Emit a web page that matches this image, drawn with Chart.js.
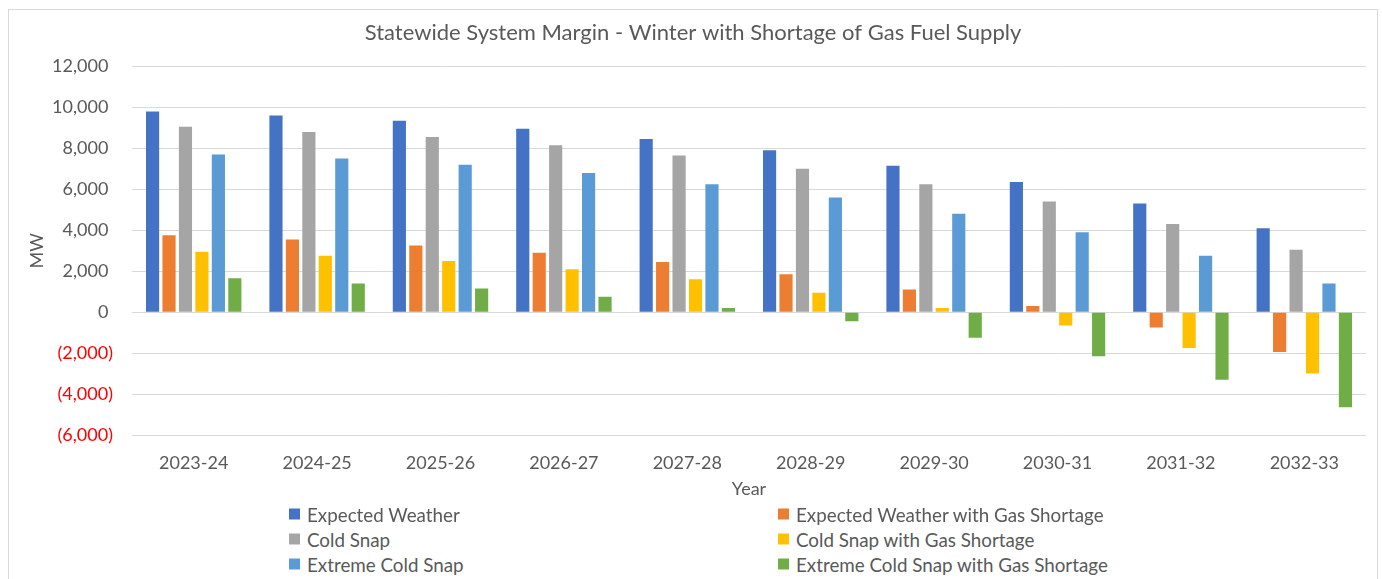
<!DOCTYPE html>
<html lang="en">
<head>
    <meta charset="UTF-8">
    <title>Statewide System Margin - Winter with Shortage of Gas Fuel Supply</title>
    <script src="https://cdn.jsdelivr.net/npm/chart.js"></script>
    <style>
        body {
            margin: 0;
            padding: 0;
            background: #ffffff;
            overflow: hidden;
            font-family: Lato, "Open Sans", sans-serif;
        }
        #frame {
            position: absolute;
            left: 8px;
            top: 9px;
            width: 1368px;
            height: 600px;
            border: 1px solid #d9d9d9;
        }
        #box {
            position: absolute;
            left: 0;
            top: 0;
            width: 1368px;
            height: 494px;
        }
        #legend {
            position: absolute;
            left: 0;
            top: 0;
        }
        .item {
            position: absolute;
            display: flex;
            align-items: center;
            font-size: 18.8px;
            color: #595959;
            white-space: nowrap;
            transform: translateY(-50%);
        }
        .swatch {
            width: 11px;
            height: 11px;
            margin-right: 7px;
        }
    </style>
</head>
<body>
<div id="frame">
    <div id="box"><canvas id="grafico"></canvas></div>
    <div id="legend"></div>
</div>

<script>
    const anos = ['2023-24', '2024-25', '2025-26', '2026-27', '2027-28',
                  '2028-29', '2029-30', '2030-31', '2031-32', '2032-33'];

    const expectedWeather    = [9800, 9600, 9350, 8950, 8450, 7900, 7150, 6350, 5300, 4100];
    const expectedWeatherGas = [3750, 3550, 3250, 2900, 2450, 1850, 1100, 300, -750, -1950];
    const coldSnap           = [9050, 8800, 8550, 8150, 7650, 7000, 6250, 5400, 4300, 3050];
    const coldSnapGas        = [2950, 2750, 2500, 2100, 1600, 950, 200, -650, -1750, -3000];
    const extremeCold        = [7700, 7500, 7200, 6800, 6250, 5600, 4800, 3900, 2750, 1400];
    const extremeColdGas     = [1650, 1400, 1150, 750, 200, -450, -1250, -2150, -3300, -4650];

    const series = [
        { nome: 'Expected Weather', valores: expectedWeather, cor: '#4472C4' },
        { nome: 'Expected Weather with Gas Shortage', valores: expectedWeatherGas, cor: '#ED7D31' },
        { nome: 'Cold Snap', valores: coldSnap, cor: '#A5A5A5' },
        { nome: 'Cold Snap with Gas Shortage', valores: coldSnapGas, cor: '#FFC000' },
        { nome: 'Extreme Cold Snap', valores: extremeCold, cor: '#5B9BD5' },
        { nome: 'Extreme Cold Snap with Gas Shortage', valores: extremeColdGas, cor: '#70AD47' }
    ];

    const cinza = '#595959';
    const fonte = 'Lato, "Open Sans", sans-serif';

    function formatarTick(v) {
        const txt = Math.abs(v).toLocaleString('en-US');
        return v < 0 ? '(' + txt + ')' : txt + ' ';
    }

    const ctx = document.getElementById('grafico').getContext('2d');
    new Chart(ctx, {
        type: 'bar',
        data: {
            labels: anos,
            datasets: series.map(s => ({
                label: s.nome,
                data: s.valores,
                backgroundColor: s.cor,
                borderWidth: 0,
                categoryPercentage: 0.8,
                barPercentage: 0.8
            }))
        },
        options: {
            responsive: true,
            maintainAspectRatio: false,
            animation: false,
            layout: { padding: { left: 11, right: 11, top: 0, bottom: 0 } },
            plugins: {
                legend: { display: false },
                tooltip: { enabled: false },
                title: {
                    display: true,
                    text: 'Statewide System Margin - Winter with Shortage of Gas Fuel Supply',
                    color: cinza,
                    font: { family: fonte, size: 22, weight: 'normal' },
                    padding: { top: 10, bottom: 20 }
                }
            },
            scales: {
                x: {
                    afterFit: scale => { scale.height = 69; },
                    grid: { display: false, drawTicks: false },
                    border: { display: false },
                    ticks: {
                        color: cinza,
                        font: { family: fonte, size: 18 },
                        padding: 17,
                        maxRotation: 0
                    },
                    title: {
                        display: true,
                        text: 'Year',
                        color: cinza,
                        font: { family: fonte, size: 18 },
                        padding: { top: 5, bottom: 4 }
                    }
                },
                y: {
                    min: -6000,
                    max: 12000,
                    afterFit: scale => { scale.width = 112; },
                    grid: { color: '#d9d9d9', lineWidth: 1, drawTicks: false },
                    border: { display: false },
                    ticks: {
                        stepSize: 2000,
                        padding: 19,
                        font: { family: fonte, size: 18 },
                        color: c => (c.tick && c.tick.value < 0) ? '#ff0000' : cinza,
                        callback: v => formatarTick(v)
                    },
                    title: {
                        display: true,
                        text: 'MW',
                        color: cinza,
                        font: { family: fonte, size: 18 },
                        padding: { top: 6, bottom: 0 }
                    }
                }
            }
        }
    });

    // legenda em duas colunas, como no original
    const legenda = document.getElementById('legend');
    const colunas = [280, 769];
    const linhas = [504, 529, 554];
    series.forEach((s, i) => {
        const item = document.createElement('div');
        item.className = 'item';
        item.style.left = colunas[i % 2] + 'px';
        item.style.top = linhas[Math.floor(i / 2)] + 'px';
        const sw = document.createElement('span');
        sw.className = 'swatch';
        sw.style.background = s.cor;
        item.appendChild(sw);
        item.appendChild(document.createTextNode(s.nome));
        legenda.appendChild(item);
    });
</script>
</body>
</html>
